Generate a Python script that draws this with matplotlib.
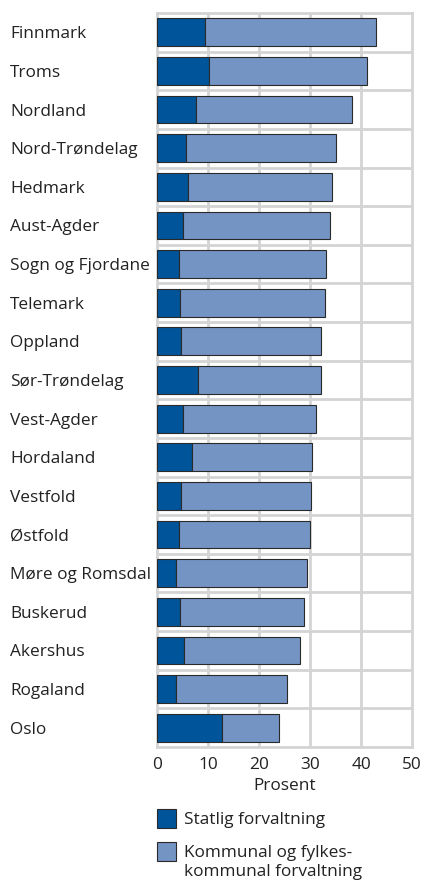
import matplotlib
matplotlib.use("Agg")
import matplotlib.pyplot as plt
from matplotlib.patches import Rectangle

plt.rcParams['font.family'] = ['Open Sans', 'DejaVu Sans']

# data (prosent)
fylker = ["Finnmark", "Troms", "Nordland", "Nord-Trøndelag", "Hedmark",
          "Aust-Agder", "Sogn og Fjordane", "Telemark", "Oppland",
          "Sør-Trøndelag", "Vest-Agder", "Hordaland", "Vestfold", "Østfold",
          "Møre og Romsdal", "Buskerud", "Akershus", "Rogaland", "Oslo"]
statlig = [9.5, 10.1, 7.6, 5.6, 6.1, 5.0, 4.4, 4.6, 4.8, 8.1,
           5.0, 6.8, 4.8, 4.4, 3.7, 4.6, 5.2, 3.8, 12.7]
totalt = [42.9, 41.2, 38.2, 35.0, 34.4, 33.9, 33.2, 32.9, 32.2, 32.1,
          31.2, 30.3, 30.1, 30.0, 29.5, 28.9, 28.0, 25.4, 23.9]
kommunal = [t - s for t, s in zip(totalt, statlig)]
serier = ["Statlig forvaltning", "Kommunal og fylkes-\nkommunal forvaltning"]
xticks = [0, 10, 20, 30, 40, 50]

c_dark = "#00559a"
c_light = "#7494c4"
c_grid = "#d4d4d4"
c_edge = "#2a2a2a"
c_text = "#222222"
fs = 12.4

fig = plt.figure(figsize=(4.22, 8.80), dpi=100)
ax = fig.add_axes([157 / 422, 1 - 747 / 880, 255 / 422, 734 / 880])

y = list(range(len(fylker)))
ax.barh(y, statlig, height=0.72, color=c_dark, edgecolor=c_edge, linewidth=0.8, zorder=3)
ax.barh(y, kommunal, left=statlig, height=0.72, color=c_light, edgecolor=c_edge,
        linewidth=0.8, zorder=3)

ax.set_xlim(0, 50)
ax.set_ylim(len(fylker) - 0.5, -0.5)

# grid: vertical lines at ticks, horizontal lines between bars
for xv in xticks[1:-1]:
    ax.axvline(xv, color=c_grid, lw=2, zorder=1)
for i in range(len(fylker) - 1):
    ax.axhline(i + 0.5, color=c_grid, lw=2, zorder=1)
for s in ax.spines.values():
    s.set_color(c_grid)
    s.set_linewidth(2)

ax.set_xticks(xticks)
ax.set_xticklabels([str(v) for v in xticks], fontsize=fs, color=c_text)
ax.set_yticks(y)
ax.set_yticklabels(fylker, fontsize=fs, color=c_text, ha="left")
ax.tick_params(axis="both", length=0)
ax.tick_params(axis="y", pad=(157 - 10) * 0.72)
ax.tick_params(axis="x", pad=7.5)
ax.set_xlabel("Prosent", fontsize=fs, color=c_text, labelpad=3.5)

# legend drawn by hand so the square lines up with the first text line
for (yp, col, lab) in [(809, c_dark, serier[0]), (842, c_light, serier[1])]:
    fig.patches.append(Rectangle((157 / 422, 1 - (yp + 19) / 880), 19 / 422, 19 / 880,
                                 transform=fig.transFigure, facecolor=col,
                                 edgecolor=c_edge, linewidth=0.8))
    for k, line in enumerate(lab.split("\n")):
        fig.text(184 / 422, 1 - (yp + 14.5 + 19.5 * k) / 880, line, fontsize=fs,
                 color=c_text, ha="left", va="baseline")

fig.savefig("out.png", dpi=100)
